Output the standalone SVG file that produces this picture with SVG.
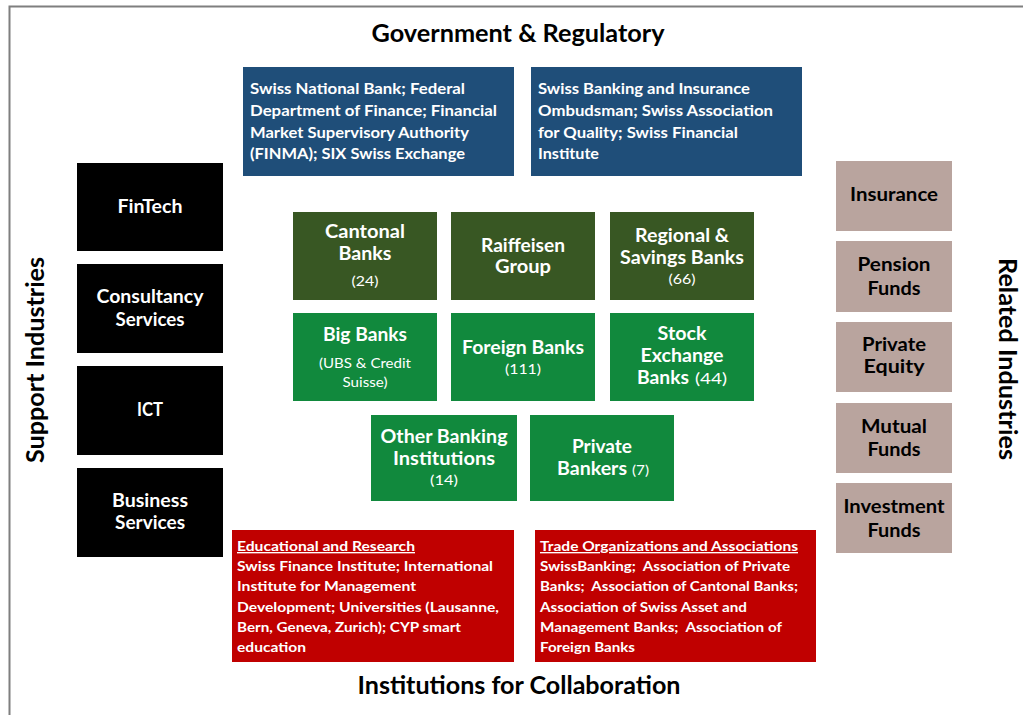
<svg xmlns="http://www.w3.org/2000/svg" width="1023" height="715" viewBox="0 0 1023 715">
  <style>
    text { font-family: Lato, "Open Sans", "DejaVu Sans", sans-serif; }
    .b { font-weight: 700; }
    .r { font-weight: 400; }
    .c { text-anchor: middle; }
    .w { fill: #ffffff; }
    .k { fill: #000000; }
    .t24 { font-size: 24px; }
    .t18 { font-size: 18px; }
    .t14 { font-size: 14px; }
    .t16 { font-size: 16px; }
    .para { font-size: 14.5px; }
    .para2 { font-size: 13.5px; }
    .u { text-decoration: underline; }
    .gov { fill: #1F4E79; }
    .dark { fill: #385723; }
    .green { fill: #11893D; }
    .sup { fill: #000000; }
    .rel { fill: #B9A49E; }
    .col { fill: #C00000; }
  </style>

  <!-- outer frame (left and top edges) -->
  <g id="frame">
    <path d="M9.5 715V6.5H1023" fill="none" stroke="#7F7F7F" stroke-width="2"/>
  </g>

  <!-- side and section headings -->
  <g id="headings">
    <text class="b c k t24" x="518" y="42" textLength="293" lengthAdjust="spacingAndGlyphs">Government &amp; Regulatory</text>
    <text class="b c k t24" x="519" y="694" textLength="323" lengthAdjust="spacingAndGlyphs">Institutions for Collaboration</text>
    <text class="b c k t24" transform="translate(44 360) rotate(-90)" textLength="206" lengthAdjust="spacingAndGlyphs">Support Industries</text>
    <text class="b c k t24" transform="translate(999 359) rotate(90)" textLength="202" lengthAdjust="spacingAndGlyphs">Related Industries</text>
  </g>

  <!-- government and regulatory bodies -->
  <g id="gov-regulators">
    <rect class="gov" x="243" y="67" width="271" height="109"/>
    <text class="b w para" x="250" y="94" textLength="215" lengthAdjust="spacingAndGlyphs">Swiss National Bank; Federal</text>
    <text class="b w para" x="250" y="116" textLength="247" lengthAdjust="spacingAndGlyphs">Department of Finance; Financial</text>
    <text class="b w para" x="250" y="138" textLength="219" lengthAdjust="spacingAndGlyphs">Market Supervisory Authority</text>
    <text class="b w para" x="250" y="159" textLength="215" lengthAdjust="spacingAndGlyphs">(FINMA); SIX Swiss Exchange</text>
  </g>
  <g id="gov-ombudsman">
    <rect class="gov" x="531" y="67" width="271" height="109"/>
    <text class="b w para" x="538" y="94" textLength="212" lengthAdjust="spacingAndGlyphs">Swiss Banking and Insurance</text>
    <text class="b w para" x="538" y="116" textLength="235" lengthAdjust="spacingAndGlyphs">Ombudsman; Swiss Association</text>
    <text class="b w para" x="538" y="138" textLength="200" lengthAdjust="spacingAndGlyphs">for Quality; Swiss Financial</text>
    <text class="b w para" x="538" y="159" textLength="61" lengthAdjust="spacingAndGlyphs">Institute</text>
  </g>

  <!-- core banking groups -->
  <g id="cantonal-banks">
    <rect class="dark" x="293" y="212" width="144" height="88"/>
    <text class="b c w t18" x="365" y="238" textLength="80" lengthAdjust="spacingAndGlyphs">Cantonal</text>
    <text class="b c w t18" x="365" y="260" textLength="53" lengthAdjust="spacingAndGlyphs">Banks</text>
    <text class="r c w t14" x="365" y="286" textLength="27" lengthAdjust="spacingAndGlyphs">(24)</text>
  </g>
  <g id="raiffeisen">
    <rect class="dark" x="451" y="212" width="144" height="88"/>
    <text class="b c w t18" x="523" y="252" textLength="84" lengthAdjust="spacingAndGlyphs">Raiffeisen</text>
    <text class="b c w t18" x="523" y="273" textLength="56" lengthAdjust="spacingAndGlyphs">Group</text>
  </g>
  <g id="regional-savings">
    <rect class="dark" x="610" y="212" width="144" height="88"/>
    <text class="b c w t18" x="682" y="242" textLength="94" lengthAdjust="spacingAndGlyphs">Regional &amp;</text>
    <text class="b c w t18" x="682" y="264" textLength="124" lengthAdjust="spacingAndGlyphs">Savings Banks</text>
    <text class="r c w t14" x="682" y="284" textLength="27" lengthAdjust="spacingAndGlyphs">(66)</text>
  </g>
  <g id="big-banks">
    <rect class="green" x="293" y="313" width="144" height="88"/>
    <text class="b c w t18" x="365" y="341" textLength="84" lengthAdjust="spacingAndGlyphs">Big Banks</text>
    <text class="r c w t14" x="365" y="368" textLength="92" lengthAdjust="spacingAndGlyphs">(UBS &amp; Credit</text>
    <text class="r c w t14" x="365" y="387" textLength="45" lengthAdjust="spacingAndGlyphs">Suisse)</text>
  </g>
  <g id="foreign-banks">
    <rect class="green" x="451" y="313" width="144" height="88"/>
    <text class="b c w t18" x="523" y="354" textLength="122" lengthAdjust="spacingAndGlyphs">Foreign Banks</text>
    <text class="r c w t14" x="523" y="374" textLength="36" lengthAdjust="spacingAndGlyphs">(111)</text>
  </g>
  <g id="stock-exchange-banks">
    <rect class="green" x="610" y="313" width="144" height="88"/>
    <text class="b c w t18" x="682" y="340" textLength="49" lengthAdjust="spacingAndGlyphs">Stock</text>
    <text class="b c w t18" x="682" y="362" textLength="83" lengthAdjust="spacingAndGlyphs">Exchange</text>
    <text class="b w t18" x="637" y="384" textLength="52" lengthAdjust="spacingAndGlyphs">Banks</text>
    <text class="r w t16" x="695" y="384" textLength="32" lengthAdjust="spacingAndGlyphs">(44)</text>
  </g>
  <g id="other-banking">
    <rect class="green" x="371" y="415" width="146" height="86"/>
    <text class="b c w t18" x="444" y="443" textLength="127" lengthAdjust="spacingAndGlyphs">Other Banking</text>
    <text class="b c w t18" x="444" y="465" textLength="102" lengthAdjust="spacingAndGlyphs">Institutions</text>
    <text class="r c w t14" x="444" y="485" textLength="28" lengthAdjust="spacingAndGlyphs">(14)</text>
  </g>
  <g id="private-bankers">
    <rect class="green" x="530" y="415" width="144" height="86"/>
    <text class="b c w t18" x="602" y="453" textLength="60" lengthAdjust="spacingAndGlyphs">Private</text>
    <text class="b w t18" x="557" y="475" textLength="70" lengthAdjust="spacingAndGlyphs">Bankers</text>
    <text class="r w t14" x="632" y="475" textLength="17" lengthAdjust="spacingAndGlyphs">(7)</text>
  </g>

  <!-- support industries -->
  <g id="fintech">
    <rect class="sup" x="77" y="163" width="146" height="88"/>
    <text class="b c w t18" x="150" y="213" textLength="65" lengthAdjust="spacingAndGlyphs">FinTech</text>
  </g>
  <g id="consultancy">
    <rect class="sup" x="77" y="264" width="146" height="89"/>
    <text class="b c w t18" x="150" y="303" textLength="107" lengthAdjust="spacingAndGlyphs">Consultancy</text>
    <text class="b c w t18" x="150" y="326" textLength="69" lengthAdjust="spacingAndGlyphs">Services</text>
  </g>
  <g id="ict">
    <rect class="sup" x="77" y="366" width="146" height="89"/>
    <text class="b c w t18" x="150" y="416" textLength="26" lengthAdjust="spacingAndGlyphs">ICT</text>
  </g>
  <g id="business-services">
    <rect class="sup" x="77" y="468" width="146" height="89"/>
    <text class="b c w t18" x="150" y="507" textLength="76" lengthAdjust="spacingAndGlyphs">Business</text>
    <text class="b c w t18" x="150" y="529" textLength="70" lengthAdjust="spacingAndGlyphs">Services</text>
  </g>

  <!-- related industries -->
  <g id="insurance">
    <rect class="rel" x="836" y="161" width="116" height="70"/>
    <text class="b c k t18" x="894" y="201" textLength="88" lengthAdjust="spacingAndGlyphs">Insurance</text>
  </g>
  <g id="pension-funds">
    <rect class="rel" x="836" y="241" width="116" height="71"/>
    <text class="b c k t18" x="894" y="271" textLength="73" lengthAdjust="spacingAndGlyphs">Pension</text>
    <text class="b c k t18" x="894" y="295" textLength="53" lengthAdjust="spacingAndGlyphs">Funds</text>
  </g>
  <g id="private-equity">
    <rect class="rel" x="836" y="322" width="116" height="70"/>
    <text class="b c k t18" x="894" y="351" textLength="64" lengthAdjust="spacingAndGlyphs">Private</text>
    <text class="b c k t18" x="894" y="373" textLength="61" lengthAdjust="spacingAndGlyphs">Equity</text>
  </g>
  <g id="mutual-funds">
    <rect class="rel" x="836" y="403" width="116" height="70"/>
    <text class="b c k t18" x="894" y="433" textLength="66" lengthAdjust="spacingAndGlyphs">Mutual</text>
    <text class="b c k t18" x="894" y="456" textLength="53" lengthAdjust="spacingAndGlyphs">Funds</text>
  </g>
  <g id="investment-funds">
    <rect class="rel" x="836" y="483" width="116" height="70"/>
    <text class="b c k t18" x="894" y="513" textLength="101" lengthAdjust="spacingAndGlyphs">Investment</text>
    <text class="b c k t18" x="894" y="537" textLength="53" lengthAdjust="spacingAndGlyphs">Funds</text>
  </g>

  <!-- institutions for collaboration -->
  <g id="education-research">
    <rect class="col" x="232" y="530" width="282" height="132"/>
    <text class="b w para2 u" x="237" y="551" textLength="178" lengthAdjust="spacingAndGlyphs">Educational and Research</text>
    <text class="b w para2" x="237" y="571" textLength="256" lengthAdjust="spacingAndGlyphs">Swiss Finance Institute; International</text>
    <text class="b w para2" x="237" y="591" textLength="179" lengthAdjust="spacingAndGlyphs">Institute for Management</text>
    <text class="b w para2" x="237" y="612" textLength="262" lengthAdjust="spacingAndGlyphs">Development; Universities (Lausanne,</text>
    <text class="b w para2" x="237" y="632" textLength="224" lengthAdjust="spacingAndGlyphs">Bern, Geneva, Zurich); CYP smart</text>
    <text class="b w para2" x="237" y="652" textLength="69" lengthAdjust="spacingAndGlyphs">education</text>
  </g>
  <g id="trade-associations">
    <rect class="col" x="535" y="530" width="281" height="132"/>
    <text class="b w para2 u" x="540" y="551" textLength="258" lengthAdjust="spacingAndGlyphs">Trade Organizations and Associations</text>
    <text class="b w para2" x="540" y="571" textLength="250" lengthAdjust="spacingAndGlyphs" xml:space="preserve">SwissBanking;  Association of Private</text>
    <text class="b w para2" x="540" y="591" textLength="258" lengthAdjust="spacingAndGlyphs" xml:space="preserve">Banks;  Association of Cantonal Banks;</text>
    <text class="b w para2" x="540" y="612" textLength="207" lengthAdjust="spacingAndGlyphs">Association of Swiss Asset and</text>
    <text class="b w para2" x="540" y="632" textLength="242" lengthAdjust="spacingAndGlyphs" xml:space="preserve">Management Banks;  Association of</text>
    <text class="b w para2" x="540" y="652" textLength="95" lengthAdjust="spacingAndGlyphs">Foreign Banks</text>
  </g>

  <g id="connectors"/>
</svg>
